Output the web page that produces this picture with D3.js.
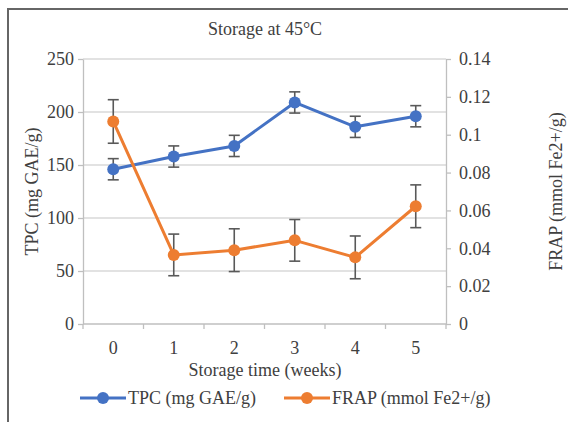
<!DOCTYPE html>
<html>
<head>
  <style type="text/css">
    body { margin: 0; background: #fff; }
    svg text { font-family: "Liberation Serif", "Times New Roman", serif !important; fill: #404040; }
    .grid line { stroke: #d9d9d9; stroke-width: 1.3px; }
    .axis path, .axis line { stroke: #bfbfbf; stroke-width: 1.3px; }
  </style>
</head>
<body>
<svg></svg>
<script src="https://d3js.org/d3.v7.min.js"></script>
<script>
    var width = 568;
    var height = 422;

    // data
    var weeks = ['0', '1', '2', '3', '4', '5'];
    var tpc = [146, 158, 168, 209, 186, 196];
    var tpcErr = [10, 10, 10, 10, 10, 10];
    var frap = [0.107, 0.0365, 0.039, 0.0442, 0.0352, 0.0622];
    var frapErr = [0.0115, 0.011, 0.0113, 0.011, 0.0113, 0.0113];
    var leftTicks = [0, 50, 100, 150, 200, 250];
    var rightTicks = [0, 0.02, 0.04, 0.06, 0.08, 0.1, 0.12, 0.14];

    var blue = '#4472c4', orange = '#ed7d31', errColor = '#595959';
    var fs = '18px';
    var plot = { left: 83, right: 446, top: 59, bottom: 324 };

    var svg = d3.select('svg')
      .attr('width', width)
      .attr('height', height);

    // frame (only top and left edges visible in picture)
    svg.append('path')
      .attr('d', 'M8,' + (height + 2) + 'V9H' + (width + 2))
      .attr('fill', 'none')
      .attr('stroke', '#666')
      .attr('stroke-width', 2);

    var x = d3.scaleBand().domain(weeks).range([plot.left, plot.right]);
    var yL = d3.scaleLinear().domain([0, 250]).range([plot.bottom, plot.top]);
    var yR = d3.scaleLinear().domain([0, 0.14]).range([plot.bottom, plot.top]);

    // gridlines
    svg.append('g').attr('class', 'grid')
      .selectAll('line').data(leftTicks.slice(1)).enter().append('line')
      .attr('x1', plot.left).attr('x2', plot.right)
      .attr('y1', function(d) { return yL(d); })
      .attr('y2', function(d) { return yL(d); });

    // left axis
    var gL = svg.append('g').attr('class', 'axis')
      .attr('transform', 'translate(' + plot.left + ',0)')
      .call(d3.axisLeft(yL).tickValues(leftTicks).tickSize(5).tickSizeOuter(0).tickPadding(4));
    gL.attr('font-family', null).attr('font-size', fs);

    // right axis
    var gR = svg.append('g').attr('class', 'axis')
      .attr('transform', 'translate(' + plot.right + ',0)')
      .call(d3.axisRight(yR).tickValues(rightTicks).tickSize(5).tickSizeOuter(0).tickPadding(8)
        .tickFormat(function(d) { return d3.format('~g')(d); }));
    gR.attr('font-family', null).attr('font-size', fs);

    // bottom axis: ticks at band edges
    var gB = svg.append('g').attr('class', 'axis')
      .attr('transform', 'translate(0,' + plot.bottom + ')');
    gB.append('line').attr('x1', plot.left).attr('x2', plot.right);
    var edges = weeks.map(function(d) { return x(d); }).concat([plot.right]);
    gB.selectAll('.edge').data(edges).enter().append('line')
      .attr('class', 'edge')
      .attr('x1', function(d) { return d; }).attr('x2', function(d) { return d; })
      .attr('y1', 0).attr('y2', 5);
    gB.selectAll('text').data(weeks).enter().append('text')
      .attr('x', function(d) { return x(d) + x.bandwidth() / 2; })
      .attr('y', 30)
      .attr('text-anchor', 'middle')
      .style('font-size', fs)
      .text(function(d) { return d; });

    // titles
    svg.append('text')
      .attr('x', 265).attr('y', 35)
      .attr('text-anchor', 'middle')
      .style('font-size', fs)
      .text('Storage at 45°C');
    svg.append('text')
      .attr('x', 265).attr('y', 376)
      .attr('text-anchor', 'middle')
      .style('font-size', fs)
      .text('Storage time (weeks)');
    svg.append('text')
      .attr('transform', 'translate(38,' + (plot.top + plot.bottom) / 2 + ') rotate(-90)')
      .attr('text-anchor', 'middle')
      .style('font-size', fs)
      .text('TPC (mg GAE/g)');
    svg.append('text')
      .attr('transform', 'translate(562,' + (plot.top + plot.bottom) / 2 + ') rotate(-90)')
      .attr('text-anchor', 'middle')
      .style('font-size', fs)
      .text('FRAP (mmol Fe2+/g)');

    function cx(i) { return x(weeks[i]) + x.bandwidth() / 2; }

    function drawSeries(vals, errs, y, color) {
      var g = svg.append('g');
      var pts = vals.map(function(v, i) { return { i: i, v: v, e: errs[i] }; });
      g.append('path')
        .datum(pts)
        .attr('fill', 'none')
        .attr('stroke', color)
        .attr('stroke-width', 3)
        .attr('stroke-linejoin', 'round')
        .attr('d', d3.line().x(function(d) { return cx(d.i); }).y(function(d) { return y(d.v); }));
      var eb = g.selectAll('.eb').data(pts).enter().append('g')
        .attr('stroke', errColor).attr('stroke-width', 1.6);
      eb.append('line')
        .attr('x1', function(d) { return cx(d.i); }).attr('x2', function(d) { return cx(d.i); })
        .attr('y1', function(d) { return y(d.v + d.e); }).attr('y2', function(d) { return y(d.v - d.e); });
      eb.append('line')
        .attr('x1', function(d) { return cx(d.i) - 5.5; }).attr('x2', function(d) { return cx(d.i) + 5.5; })
        .attr('y1', function(d) { return y(d.v + d.e); }).attr('y2', function(d) { return y(d.v + d.e); });
      eb.append('line')
        .attr('x1', function(d) { return cx(d.i) - 5.5; }).attr('x2', function(d) { return cx(d.i) + 5.5; })
        .attr('y1', function(d) { return y(d.v - d.e); }).attr('y2', function(d) { return y(d.v - d.e); });
      g.selectAll('circle').data(pts).enter().append('circle')
        .attr('cx', function(d) { return cx(d.i); })
        .attr('cy', function(d) { return y(d.v); })
        .attr('r', 6)
        .attr('fill', color);
    }

    drawSeries(tpc, tpcErr, yL, blue);
    drawSeries(frap, frapErr, yR, orange);

    // legend
    var legend = [
      { name: 'TPC (mg GAE/g)', color: blue, x: 80 },
      { name: 'FRAP (mmol Fe2+/g)', color: orange, x: 284 }
    ];
    var lg = svg.selectAll('.legend').data(legend).enter().append('g')
      .attr('transform', function(d) { return 'translate(' + d.x + ',398)'; });
    lg.append('line').attr('x1', 0).attr('x2', 46)
      .attr('stroke', function(d) { return d.color; }).attr('stroke-width', 3);
    lg.append('circle').attr('cx', 23).attr('r', 6)
      .attr('fill', function(d) { return d.color; });
    lg.append('text').attr('x', 48).attr('y', 6)
      .style('font-size', fs)
      .text(function(d) { return d.name; });
  </script>
</body>
</html>
